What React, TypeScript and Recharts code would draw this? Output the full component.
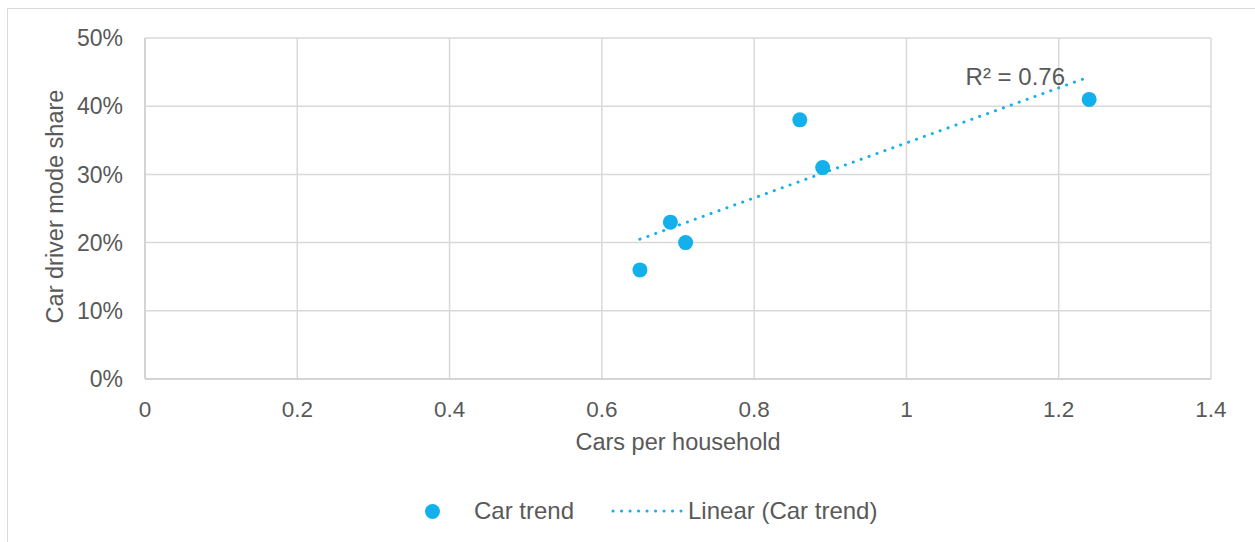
import { CartesianGrid, Label, Legend, ReferenceDot, ReferenceLine, Scatter, ScatterChart, XAxis, YAxis } from "recharts";

// car ownership vs. car-driver mode share
const carsPerHousehold = [0.65, 0.69, 0.71, 0.86, 0.89, 1.24];
const carDriverShare = [0.16, 0.23, 0.2, 0.38, 0.31, 0.41];

// linear trend endpoints as shown (Excel trendline)
const trendX = [0.65, 1.24];
const trendY = [0.205, 0.443];
const rSquaredText = "R² = 0.76";
const rSquaredAt = { x: 1.143, y: 0.444 };

const xTicks = [0, 0.2, 0.4, 0.6, 0.8, 1, 1.2, 1.4];
const yTicks = [0, 0.1, 0.2, 0.3, 0.4, 0.5];

const BLUE = "#14b0ec";
const TEXT = "#595959";
const GRID = "#d9d9d9";
const FONT = '"Liberation Sans", Arial, sans-serif';

const points = carsPerHousehold.map((x, i) => ({ x, y: carDriverShare[i] }));

function YTitle({ viewBox }: any) {
  // baseline of the rotated title sits at x = 63
  const cx = viewBox.x + 18;
  const cy = viewBox.y + viewBox.height / 2 - 2;
  return (
    <text
      x={cx}
      y={cy}
      transform={`rotate(-90 ${cx} ${cy})`}
      textAnchor="middle"
      fill={TEXT}
      fontSize={23.5}
      fontFamily={FONT}
    >
      Car driver mode share
    </text>
  );
}

function LegendContent() {
  return (
    <div style={{ position: "relative", width: 1255, height: 30, fontFamily: FONT, fontSize: 24, color: TEXT }}>
      <span
        style={{ position: "absolute", left: 425, top: 8, width: 15, height: 15, borderRadius: "50%", background: BLUE }}
      />
      <span style={{ position: "absolute", left: 474, top: 0, lineHeight: "30px", whiteSpace: "nowrap" }}>Car trend</span>
      <svg style={{ position: "absolute", left: 610, top: 0 }} width={75} height={30}>
        <line x1={3} y1={15} x2={71} y2={15} stroke={BLUE} strokeWidth={3} strokeLinecap="round" strokeDasharray="0.1 8.4" />
      </svg>
      <span style={{ position: "absolute", left: 688, top: 0, lineHeight: "30px", whiteSpace: "nowrap" }}>
        Linear (Car trend)
      </span>
    </div>
  );
}

const pct = (v: number) => `${Math.round(v * 100)}%`;

export default function App() {
  return (
    <div style={{ position: "fixed", left: 0, top: 0, width: 1255, height: 542, overflow: "hidden", background: "#fff" }}>
      {/* chart area frame, runs past the right and bottom edges */}
      <div style={{ position: "absolute", left: 7, top: 8, width: 1300, height: 600, border: `1px solid ${GRID}` }} />
      <div style={{ position: "absolute", left: 0, top: 0 }}>
        <ScatterChart width={1255} height={542} margin={{ top: 38, right: 44, bottom: 118, left: 45 }}>
          <CartesianGrid stroke={GRID} strokeWidth={1.5} />
          <XAxis
            type="number"
            dataKey="x"
            domain={[0, 1.4]}
            ticks={xTicks}
            height={45}
            axisLine={{ stroke: "#cfcfcf", strokeWidth: 1.5 }}
            tickLine={false}
            tickSize={0}
            tickMargin={22}
            tick={{ fill: TEXT, fontSize: 22.5, fontFamily: FONT }}
          >
            <Label value="Cars per household" position="bottom" offset={9} fill={TEXT} fontSize={23.5} fontFamily={FONT} />
          </XAxis>
          <YAxis
            type="number"
            dataKey="y"
            domain={[0, 0.5]}
            ticks={yTicks}
            tickFormatter={pct}
            width={100}
            axisLine={{ stroke: "#cfcfcf", strokeWidth: 1.5 }}
            tickLine={false}
            tickSize={0}
            tickMargin={22}
            tick={{ fill: TEXT, fontSize: 23, fontFamily: FONT }}
          >
            <Label content={YTitle} />
          </YAxis>
          <ReferenceLine
            segment={[
              { x: trendX[0], y: trendY[0] },
              { x: trendX[1], y: trendY[1] },
            ]}
            stroke={BLUE}
            strokeWidth={3}
            strokeLinecap="round"
            strokeDasharray="0.1 8.3"
          />
          <Scatter
            name="Car trend"
            data={points}
            fill={BLUE}
            isAnimationActive={false}
            shape={(p: any) => <circle cx={p.cx} cy={p.cy} r={7.5} fill={BLUE} />}
          />
          <ReferenceDot x={rSquaredAt.x} y={rSquaredAt.y} r={0} fill="none" stroke="none">
            <Label value={rSquaredText} position="center" fill={TEXT} fontSize={24} fontFamily={FONT} />
          </ReferenceDot>
          <Legend
            layout="horizontal"
            verticalAlign="middle"
            align="center"
            content={LegendContent}
            wrapperStyle={{ left: 0, top: 496, width: 1255 }}
          />
        </ScatterChart>
      </div>
    </div>
  );
}
